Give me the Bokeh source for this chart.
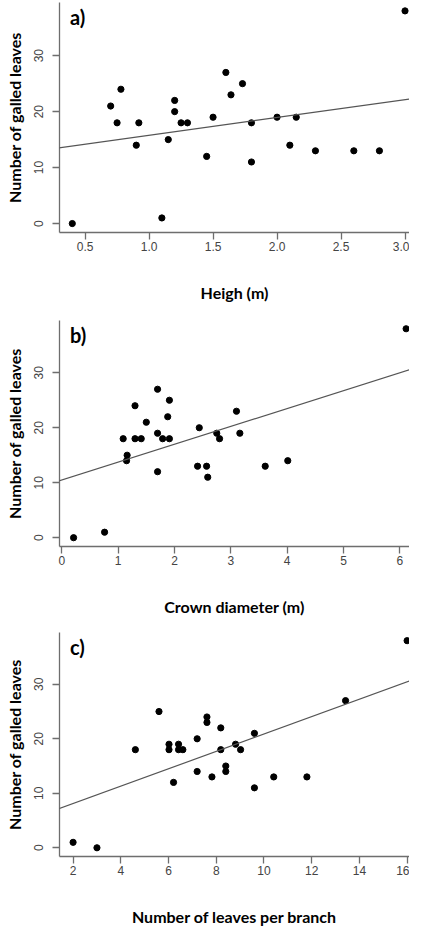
from bokeh.plotting import figure
from bokeh.layouts import column
from bokeh.models import FixedTicker, Label, Slope
from bokeh.embed import file_html
from bokeh.resources import INLINE

# ---- data ----
height_m = [0.40, 0.70, 0.75, 0.78, 0.90, 0.92, 1.10, 1.15, 1.20, 1.20, 1.25, 1.30, 1.45,
            1.50, 1.60, 1.64, 1.73, 1.80, 1.80, 2.00, 2.10, 2.15, 2.30, 2.60, 2.80, 3.00]
galled_a = [0, 21, 18, 24, 14, 18, 1, 15, 22, 20, 18, 18, 12,
            19, 27, 23, 25, 18, 11, 19, 14, 19, 13, 13, 13, 38]

crown_m = [0.21, 0.76, 1.09, 1.15, 1.16, 1.30, 1.30, 1.41, 1.50, 1.70, 1.70, 1.70, 1.79,
           1.88, 1.91, 1.91, 2.41, 2.44, 2.57, 2.59, 2.75, 2.80, 3.10, 3.16, 3.61, 4.01, 6.11]
galled_b = [0, 1, 18, 14, 15, 24, 18, 18, 21, 27, 19, 12, 18,
            22, 25, 18, 13, 20, 13, 11, 19, 18, 23, 19, 13, 14, 38]

leaves_branch = [2.0, 3.0, 4.61, 5.60, 6.02, 6.02, 6.21, 6.42, 6.42, 6.60, 7.20, 7.20, 7.61,
                 7.61, 7.82, 8.19, 8.19, 8.40, 8.40, 8.81, 9.02, 9.60, 9.60, 10.41, 11.80, 13.42, 16.0]
galled_c = [1, 0, 18, 25, 19, 18, 12, 19, 18, 18, 20, 14, 24,
            23, 13, 22, 18, 15, 14, 19, 18, 21, 11, 13, 13, 27, 38]

# regression lines (intercept, slope)
fit_a = (12.6, 3.175)
fit_b = (10.5, 3.25)
fit_c = (4.92, 1.596)

xticks_a = [0.5, 1.0, 1.5, 2.0, 2.5, 3.0]
xlabels_a = ["0.5", "1.0", "1.5", "2.0", "2.5", "3.0"]
xticks_b = [0, 1, 2, 3, 4, 5, 6]
xlabels_b = ["0", "1", "2", "3", "4", "5", "6"]
xticks_c = [2, 4, 6, 8, 10, 12, 14, 16]
xlabels_c = ["2", "4", "6", "8", "10", "12", "14", "16"]
yticks = [0, 10, 20, 30]
ylabels = ["0", "10", "20", "30"]

TITLE_FONT = "Lato"
TICK_FONT = "Liberation Sans"
AXIS_COLOR = "#6e6e6e"
TICK_TEXT = "#444444"


def panel(x, y, fit, xlabel, letter, xticks, xlabels, xr, h, top, frame_h):
    p = figure(width=409, height=h, x_range=xr, y_range=(-1.6, 39.5),
               output_backend="svg", toolbar_location=None,
               min_border_left=59, min_border_right=0,
               min_border_top=top, min_border_bottom=h - top - frame_h)
    p.outline_line_color = None
    p.grid.visible = False
    p.background_fill_color = "white"
    p.border_fill_color = "white"

    for ax in (p.xaxis[0], p.yaxis[0]):
        ax.axis_line_color = AXIS_COLOR
        ax.axis_line_width = 1.3
        ax.major_tick_line_color = AXIS_COLOR
        ax.major_tick_line_width = 1.3
        ax.major_tick_out = 7
        ax.major_tick_in = 0
        ax.minor_tick_line_color = None
        ax.major_label_text_font = TICK_FONT
        ax.major_label_text_font_size = "12px"
        ax.major_label_text_color = TICK_TEXT
        ax.axis_label_text_font = TITLE_FONT
        ax.axis_label_text_font_style = "bold"
        ax.axis_label_text_font_size = "16px"
        ax.axis_label_text_color = "black"

    p.xaxis.ticker = FixedTicker(ticks=xticks)
    p.xaxis.major_label_overrides = {t: l for t, l in zip(xticks, xlabels)}
    p.xaxis.major_label_standoff = 2
    p.xaxis.axis_label = xlabel
    p.xaxis.axis_label_standoff = 29

    p.yaxis.ticker = FixedTicker(ticks=yticks)
    p.yaxis.major_label_overrides = {t: l for t, l in zip(yticks, ylabels)}
    p.yaxis.major_label_orientation = "vertical"
    p.yaxis.major_label_standoff = 9
    p.yaxis.axis_label = "Number of galled leaves"
    p.yaxis.axis_label_standoff = 8

    p.add_layout(Slope(gradient=fit[1], y_intercept=fit[0],
                       line_color="#555555", line_width=1.2))
    p.scatter(x, y, size=6.2, color="black")

    span = xr[1] - xr[0]
    p.add_layout(Label(x=xr[0] + span * 0.03, y=39.0, text=letter,
                       text_font=TITLE_FONT, text_font_style="bold",
                       text_font_size="20px", text_baseline="top",
                       text_color="black"))
    return p


pa = panel(height_m, galled_a, fit_a, "Heigh (m)", "a)", xticks_a, xlabels_a,
           (0.3, 3.035), 304, 2, 231)
pb = panel(crown_m, galled_b, fit_b, "Crown diameter (m)", "b)", xticks_b, xlabels_b,
           (-0.04, 6.17), 314, 16, 230)
pc = panel(leaves_branch, galled_c, fit_c, "Number of leaves per branch", "c)", xticks_c, xlabels_c,
           (1.43, 16.1), 310, 14, 228)

layout = column(pa, pb, pc, spacing=0)
open("out.html", "w").write(file_html(layout, INLINE))
